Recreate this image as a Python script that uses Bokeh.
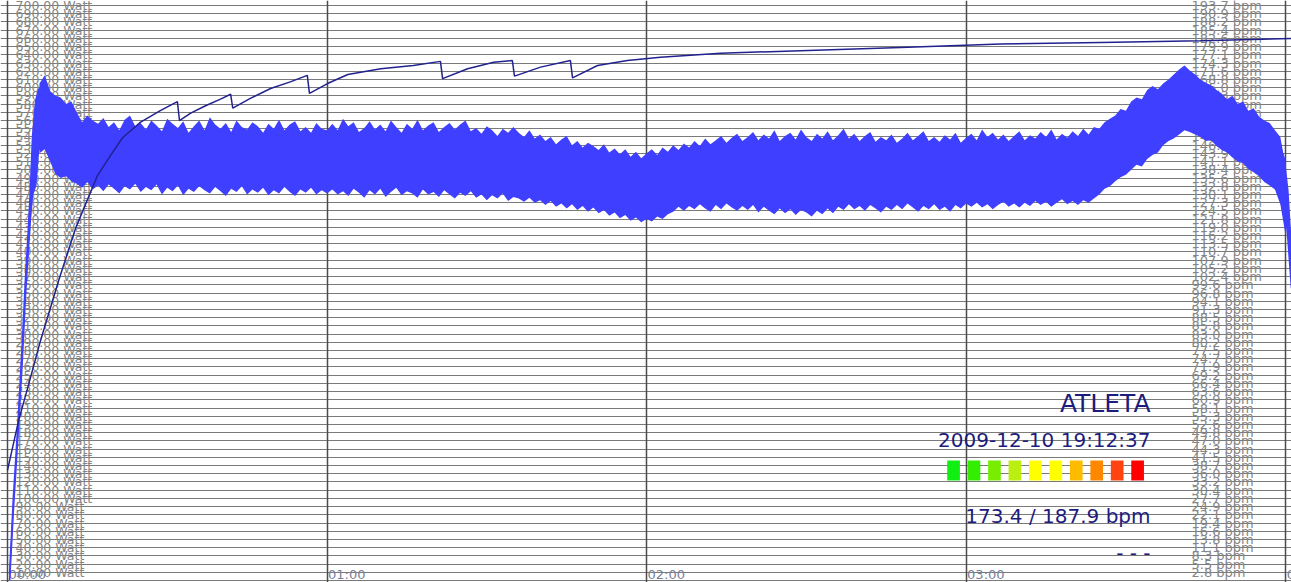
from bokeh.plotting import figure
from bokeh.models import Range1d, Grid, FixedTicker, Label
from bokeh.embed import file_html
from bokeh.resources import INLINE
from bokeh.core.properties import value

# ---- session data (elapsed time in minutes, power in Watt) ----
# cumulative curve
navy_t = [0, 2.1, 3.9, 6.2, 9.6, 12.8, 16.9, 19.3, 21.6, 25.0,
          28.7, 31.9, 32.3, 34.4, 37.2, 40.0, 41.9, 42.3, 45.6, 49.4,
          53.1, 56.3, 56.7, 60.1, 63.9, 70.1, 76.2, 81.3, 81.7, 86.4,
          91.3, 94.8, 95.2, 100.1, 105.7, 106.1, 110.8, 116.4, 122.6, 133.9,
          148.9, 167.7, 186.5, 205.3, 224.0, 241.1]
navy_w = [134, 195, 237, 292, 365, 429, 493, 517, 539, 558,
          572, 583, 560, 569, 578, 586, 592, 575, 587, 599,
          607, 615, 593, 605, 616, 623, 627, 632, 611, 623,
          631, 633, 614, 625, 633, 612, 627, 633, 637, 642,
          645, 649, 653, 655, 657, 660]

# beat-to-beat signal: body of the trace (upper / lower edge)
band_t = [0.4, 1.1, 2.0, 2.8, 3.4, 3.9, 4.3, 4.7, 5.3, 5.8,
          6.8, 7.5, 8.5, 9.6, 10.9, 12.2, 13.7, 15.6, 17.5, 20.3,
          23.1, 26.9, 30.6, 34.4, 38.1, 41.9, 45.6, 49.4, 53.1, 56.9,
          60.7, 64.4, 68.2, 71.9, 75.7, 79.4, 83.2, 86.9, 90.7, 94.5,
          98.2, 102.0, 105.7, 109.5, 113.2, 117.0, 119.8, 122.6, 126.4, 130.1,
          133.9, 137.7, 141.4, 145.2, 148.9, 152.7, 156.4, 160.2, 163.9, 167.7,
          171.5, 175.2, 179.0, 182.7, 186.5, 190.2, 194.0, 197.7, 201.5, 204.3,
          207.1, 209.9, 212.8, 215.6, 218.4, 220.3, 221.6, 223.1, 225.9, 228.7,
          231.5, 234.4, 237.2, 238.7, 239.7, 240.4, 241.1]
band_hi = [8, 100, 195, 290, 370, 425, 475, 540, 584, 597,
           605, 592, 578, 576, 568, 566, 556, 556, 550, 546,
           548, 543, 545, 540, 545, 541, 541, 540, 543, 539,
           541, 545, 540, 541, 540, 543, 541, 542, 537, 538,
           533, 528, 525, 521, 515, 512, 508, 513, 517, 521,
           524, 527, 528, 527, 529, 527, 529, 527, 525, 523,
           527, 525, 523, 529, 528, 526, 528, 530, 529, 533,
           545, 557, 569, 584, 599, 606, 610, 603, 591, 577,
           568, 555, 541, 531, 515, 475, 400]
band_lo = [0, 85, 180, 270, 350, 400, 440, 470, 481, 523,
           535, 528, 512, 500, 498, 494, 492, 490, 491, 486,
           488, 485, 486, 483, 486, 484, 483, 481, 485, 481,
           486, 483, 481, 485, 486, 482, 485, 480, 480, 477,
           477, 474, 470, 468, 462, 456, 450, 455, 462, 464,
           468, 465, 468, 463, 462, 460, 468, 468, 464, 468,
           468, 464, 468, 470, 470, 468, 470, 473, 474, 477,
           492, 504, 516, 531, 547, 555, 559, 555, 547, 535,
           522, 510, 492, 486, 468, 418, 356]

# per-minute extremes of the trace (minute 6 .. 240)
spike_t = list(range(6, 241))
spike_top = [605, 615, 596, 590, 588, 580, 583,
             570, 558, 566, 560, 556, 563, 552, 558, 548, 561,
             566, 553, 557, 549, 560, 554, 547, 562, 556, 551,
             559, 545, 553, 560, 548, 564, 555, 550, 557, 546,
             560, 552, 549, 558, 553, 545, 556, 550, 561, 548,
             555, 559, 547, 552, 545, 557, 550, 548,
             556, 548, 562, 553, 558, 546, 551, 559, 549, 555,
             547, 560, 552, 545, 556, 550, 561, 548, 554, 558,
             546, 552, 557, 549, 555, 560, 547, 551, 544, 553,
             548, 541, 550, 545, 552,
             545, 540, 548, 538, 543, 535, 540, 531, 537, 541,
             530, 535, 527, 533, 529, 524, 531, 521, 526, 519,
             525, 516, 522, 514, 520, 525, 518, 527, 522, 530,
             524, 532, 527, 535, 529, 538, 531, 536, 541, 533,
             539, 544, 535, 540, 546, 536, 543, 538, 548, 535,
             541, 545, 537, 549, 540, 535, 544, 538, 547, 536,
             542, 550, 538, 544, 535, 541, 546, 534, 540, 536,
             543, 533, 538, 545, 536, 541, 547, 535, 540, 534,
             542, 537, 545, 533, 539, 544, 536, 549, 540, 545,
             537, 543, 535, 541, 547, 536, 542, 538, 546, 540,
             549, 537, 544, 539, 547, 541, 550, 543, 552,
             550, 558, 562, 566, 574, 572, 583, 588, 586, 597,
             602, 598, 605, 610, 616, 622, 627, 621, 616, 610,
             606, 603, 597, 593, 586, 590, 580, 583, 572, 575,
             565, 560, 557, 548, 540, 505]
spike_bottom = [520, 525, 510, 495, 490, 492, 486,
                483, 478, 485, 476, 481, 474, 482, 477, 471, 480,
                476, 483, 473, 479, 475, 482, 470, 478, 474, 481,
                469, 477, 473, 480, 475, 471, 479, 474, 468, 477,
                473, 480, 470, 476, 472, 478, 469, 475, 471, 479,
                473, 468, 476, 472, 478, 470, 475, 471,
                476, 470, 474, 468, 477, 472, 466, 475, 470, 477,
                467, 473, 478, 469, 474, 471, 466, 476, 470, 473,
                467, 475, 470, 465, 472, 468, 474, 466, 470, 463,
                469, 465, 471, 462, 467,
                465, 461, 466, 460, 463, 457, 462, 455, 459, 453,
                458, 451, 456, 449, 454, 447, 451, 444, 448, 441,
                445, 438, 442, 436, 440, 437, 443, 440, 446, 449,
                455, 450, 456, 452, 458, 453, 449, 457, 452, 459,
                454, 450, 456, 451, 457, 448, 455, 450, 446, 453,
                447, 452, 445, 451, 448, 443, 450, 446, 453, 447,
                455, 451, 458, 452, 456, 450, 457, 453, 448, 455,
                451, 457, 452, 459, 454, 449, 456, 452, 458, 451,
                455, 449, 457, 453, 459, 455, 460, 454, 458, 452,
                457, 461, 455, 459, 454, 460, 456, 462, 457, 461,
                455, 460, 464, 458, 462, 457, 463, 460, 465,
                470, 477, 480, 486, 491, 494, 500, 506, 504, 513,
                518, 521, 530, 535, 538, 543, 548, 546, 543, 540,
                535, 536, 529, 524, 521, 515, 510, 508, 501, 497,
                492, 485, 481, 476, 458, 420]

# ---- scales and labels ----
watt_ticks = list(range(0, 701, 10))
label_ticks = watt_ticks[1:]
BPM_PER_WATT = 193.7 / 700.0
hour_ticks = [0, 60, 120, 180, 240]
hour_labels = ["00:00", "01:00", "02:00", "03:00", "04:00"]

zone_colors = ["#11ee11", "#33ee00", "#77ee00", "#bbee11", "#ffff00",
               "#ffff00", "#ffbb00", "#ff8800", "#ff4411", "#ff0000"]
athlete = "ATLETA"
session_start = "2009-12-10 19:12:37"
hr_summary = "173.4 / 187.9 bpm"
status_text = "- - -"

# ---- figure ----
W, H = 1291, 582
X0, X1 = -1.31, 241.1
Y0, Y1 = -2.4, 706.1


def px_x(px):
    return X0 + px / W * (X1 - X0)


def px_y(py):
    return Y1 - py / H * (Y1 - Y0)


p = figure(width=W, height=H, x_range=Range1d(X0, X1), y_range=Range1d(Y0, Y1),
           output_backend="svg", toolbar_location=None,
           x_axis_location=None, y_axis_location=None,
           min_border=0, outline_line_color=None,
           background_fill_color="white", border_fill_color="white")
p.grid.visible = False

p.add_layout(Grid(dimension=1, ticker=FixedTicker(ticks=watt_ticks),
                  grid_line_color="#7a7a7a", grid_line_width=1))
p.add_layout(Grid(dimension=0, ticker=FixedTicker(ticks=hour_ticks),
                  grid_line_color="#4a4a4a", grid_line_width=1.5))

label_font = value("DejaVu Sans")
left_text = ["%.2f Watt" % w for w in label_ticks]
right_text = ["%.1f bpm" % (w * BPM_PER_WATT) for w in label_ticks]
p.text(x=[X0] * len(label_ticks), y=label_ticks, text=left_text, x_offset=15,
       text_baseline="middle", text_align="left", text_font=label_font,
       text_font_size="12.5px", text_color="#858585")
p.text(x=[X0] * len(label_ticks), y=label_ticks, text=right_text, x_offset=1191,
       text_baseline="middle", text_align="left", text_font=label_font,
       text_font_size="13px", text_color="#858585")
p.text(x=hour_ticks, y=[px_y(574)] * len(hour_ticks), text=hour_labels, x_offset=1,
       text_baseline="middle", text_align="left", text_font=label_font,
       text_font_size="13px", text_color="#7a7f98")

# signal trace: smooth body plus the jagged per-minute extremes
blue = "#3f3fff"
p.varea(x=band_t, y1=band_lo, y2=band_hi, fill_color=blue)
p.line(band_t, band_hi, line_color=blue, line_width=1.6)
p.line(band_t, band_lo, line_color=blue, line_width=1.6)
p.varea(x=spike_t, y1=spike_bottom, y2=spike_top, fill_color=blue)

# cumulative curve
p.line(navy_t, navy_w, line_color="#22228f", line_width=1.5)

# athlete summary block
navy = "#1c1c7e"
for txt, py, size in [(athlete, 403, "25px"), (session_start, 439, "20px"),
                      (hr_summary, 515, "20px"), (status_text, 552, "20px")]:
    p.add_layout(Label(x=px_x(1150), y=px_y(py), text=txt, text_align="right",
                       text_baseline="alphabetic", text_font="DejaVu Sans",
                       text_font_size=size, text_color=navy))

lefts = [px_x(946.7 + i * 20.45) for i in range(len(zone_colors))]
rights = [px_x(946.7 + i * 20.45 + 12.7) for i in range(len(zone_colors))]
p.quad(left=lefts, right=rights, top=px_y(460), bottom=px_y(480),
       fill_color=zone_colors, line_color=None)

open("out.html", "w").write(file_html(p, INLINE))
